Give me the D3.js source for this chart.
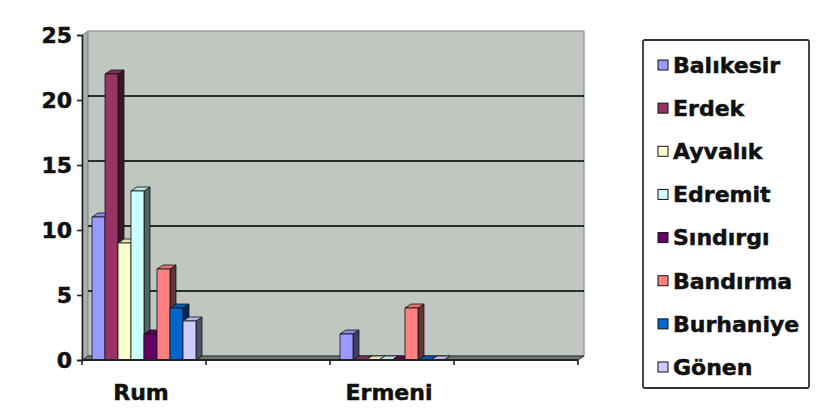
<!DOCTYPE html>
<html>
<head>
<meta charset="utf-8">
<script src="https://cdn.jsdelivr.net/npm/d3@7"></script>
<style>
  html, body { margin: 0; padding: 0; background: #fff; }
  svg { display: block; }
  text { font-family: "DejaVu Sans", sans-serif; font-weight: bold; fill: #111; stroke: #111; stroke-width: 0.5px; }
</style>
</head>
<body>
<svg id="chart" width="820" height="416"></svg>
<script>
// ---- data ----
const categories = ["Rum", "", "Ermeni", ""];
const seriesNames = ["Balıkesir", "Erdek", "Ayvalık", "Edremit", "Sındırgı", "Bandırma", "Burhaniye", "Gönen"];
// values per series for [Rum, (blank), Ermeni, (blank)]
const balikesir = [11, null, 2, null];
const erdek     = [22, null, 0, null];
const ayvalik   = [9,  null, 0, null];
const edremit   = [13, null, 0, null];
const sindirgi  = [2,  null, 0, null];
const bandirma  = [7,  null, 4, null];
const burhaniye = [4,  null, 0, null];
const gonen     = [3,  null, 0, null];
const yTicks = [0, 5, 10, 15, 20, 25];

const seriesValues = [balikesir, erdek, ayvalik, edremit, sindirgi, bandirma, burhaniye, gonen];
const palette = ["#9999FF", "#993366", "#FFFFCC", "#CCFFFF", "#660066", "#FF8080", "#0066CC", "#CCCCFF"];

// ---- layout ----
const svg = d3.select("#chart");
const x0 = 82, x1 = 578, yBottom = 360, yTop = 35;
const dx = 6, dy = 4; // 3D depth offset

const y = d3.scaleLinear().domain([0, 25]).range([yBottom, yTop]);
const x = d3.scaleBand().domain(d3.range(categories.length)).range([x0, x1]).padding(0);
const xs = d3.scaleBand().domain(d3.range(seriesNames.length)).range([0, x.bandwidth()]).paddingInner(0).paddingOuter(0.77);

const pts = a => a.map(p => p.join(",")).join(" ");

// side wall (left)
svg.append("polygon")
  .attr("points", pts([[x0, yTop], [x0 + dx, yTop - dy], [x0 + dx, yBottom - dy], [x0, yBottom]]))
  .attr("fill", "#a9b0a9").attr("stroke", "#7a807a").attr("stroke-width", 0.8);

// back wall
svg.append("rect")
  .attr("x", x0 + dx).attr("y", yTop - dy)
  .attr("width", x1 - x0).attr("height", yBottom - yTop)
  .attr("fill", "#c0c7c0").attr("stroke", "#8a908a").attr("stroke-width", 1.2);

// gridlines on back wall
svg.append("g").selectAll("line")
  .data(yTicks.filter(t => t > 0 && t < 25))
  .join("line")
  .attr("x1", x0 + dx).attr("x2", x1 + dx)
  .attr("y1", d => y(d) - dy).attr("y2", d => y(d) - dy)
  .attr("stroke", "#25302b").attr("stroke-width", 2.2);

// floor
svg.append("polygon")
  .attr("points", pts([[x0, yBottom], [x0 + dx, yBottom - dy], [x1 + dx, yBottom - dy], [x1, yBottom]]))
  .attr("fill", "#6f7570").attr("stroke", "#2a302c").attr("stroke-width", 1);

// bars
const barsG = svg.append("g");
categories.forEach((cat, ci) => {
  seriesValues.forEach((vals, si) => {
    const v = vals[ci];
    if (v === null || v === undefined) return;
    const bx = x(ci) + xs(si);
    const bw = xs.bandwidth();
    const by = y(v);
    const col = d3.color(palette[si]);
    const side = col.darker(2.6);
    const top = col.darker(0.3);
    const g = barsG.append("g").attr("stroke", "#111").attr("stroke-width", 0.8).attr("stroke-linejoin", "round");
    g.append("polygon")
      .attr("points", pts([[bx + bw, by], [bx + bw + dx, by - dy], [bx + bw + dx, yBottom - dy], [bx + bw, yBottom]]))
      .attr("fill", side);
    g.append("polygon")
      .attr("points", pts([[bx, by], [bx + dx, by - dy], [bx + bw + dx, by - dy], [bx + bw, by]]))
      .attr("fill", top);
    g.append("rect")
      .attr("x", bx).attr("y", by).attr("width", bw).attr("height", yBottom - by)
      .attr("fill", col);
  });
});

// y axis
const yAxis = svg.append("g").attr("transform", `translate(${x0},0)`)
  .call(d3.axisLeft(y).tickValues(yTicks).tickSize(5).tickPadding(5).tickFormat(d3.format("d")));
yAxis.select(".domain").attr("stroke", "#222").attr("stroke-width", 1.6);
yAxis.selectAll(".tick line").attr("stroke", "#222").attr("stroke-width", 1.6);
yAxis.selectAll(".tick text").attr("font-size", 22).attr("font-family", "DejaVu Sans").attr("font-weight", "bold").attr("fill", "#111").attr("dy", "0.36em");

// x axis
const xAxisG = svg.append("g");
xAxisG.append("line").attr("x1", x0).attr("x2", x1).attr("y1", yBottom).attr("y2", yBottom)
  .attr("stroke", "#222").attr("stroke-width", 2);
const boundaries = d3.range(categories.length + 1).map(i => i < categories.length ? x(i) : x1);
xAxisG.selectAll("line.tk").data(boundaries).join("line").attr("class", "tk")
  .attr("x1", d => d).attr("x2", d => d).attr("y1", yBottom).attr("y2", yBottom + 5)
  .attr("stroke", "#222").attr("stroke-width", 1.6);
xAxisG.selectAll("text").data(categories).join("text")
  .attr("x", (d, i) => x(i) + x.bandwidth() / 2 - 3)
  .attr("y", 400)
  .attr("text-anchor", "middle")
  .attr("font-size", 22)
  .text(d => d);

// legend
const lg = svg.append("g");
lg.append("rect").attr("x", 643).attr("y", 40).attr("width", 166).attr("height", 348)
  .attr("rx", 2).attr("fill", "#fff").attr("stroke", "#333").attr("stroke-width", 1.8);
const ly = d3.scalePoint().domain(seriesNames).range([65, 367]);
const items = lg.selectAll("g.item").data(seriesNames).join("g").attr("class", "item")
  .attr("transform", d => `translate(658,${ly(d)})`);
items.append("rect").attr("x", 0).attr("y", -5).attr("width", 10).attr("height", 10)
  .attr("fill", (d, i) => palette[i]).attr("stroke", "#111").attr("stroke-width", 1);
items.append("text").attr("x", 15).attr("y", 0).attr("dy", "0.36em")
  .attr("font-size", 22).text(d => d);
</script>
</body>
</html>
